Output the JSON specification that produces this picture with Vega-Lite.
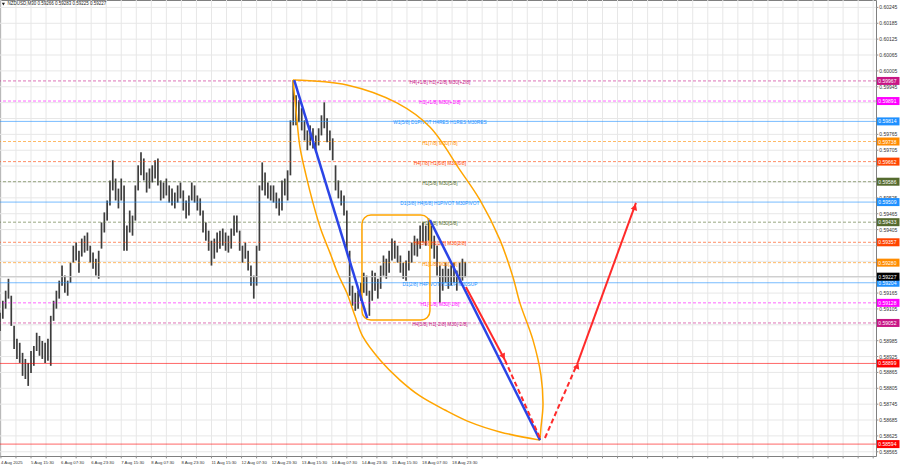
{
"$schema":"https://vega.github.io/schema/vega-lite/v6.json",
"width":876,"height":456,
"autosize":{"type":"none"},
"padding":{"left":0,"top":0,"right":24,"bottom":12},
"background":"#ffffff",
"config":{"font":"Liberation Sans","view":{"stroke":"#808080","strokeWidth":1}},
"datasets":{
"xgrid":[{"t":1},{"t":17},{"t":33},{"t":49},{"t":65},{"t":81},{"t":97},{"t":113},{"t":129},{"t":145},{"t":161},{"t":177},{"t":193},{"t":209},{"t":225},{"t":241},{"t":257},{"t":273},{"t":289},{"t":305},{"t":321},{"t":337},{"t":353},{"t":369},{"t":385},{"t":401},{"t":417},{"t":433},{"t":449},{"t":465},{"t":481},{"t":497},{"t":513},{"t":529},{"t":545},{"t":561},{"t":577},{"t":593},{"t":609},{"t":625},{"t":641},{"t":657},{"t":673},{"t":689},{"t":705},{"t":721},{"t":737},{"t":753},{"t":769},{"t":785},{"t":801},{"t":817},{"t":833},{"t":849},{"t":865},{"t":881},{"t":897},{"t":913},{"t":929}],
"xlabels":[{"t":1,"label":"4 Aug 2025"},{"t":33,"label":"5 Aug 15:30"},{"t":65,"label":"6 Aug 07:30"},{"t":97,"label":"6 Aug 23:30"},{"t":129,"label":"7 Aug 15:30"},{"t":161,"label":"8 Aug 07:30"},{"t":193,"label":"8 Aug 23:30"},{"t":225,"label":"11 Aug 15:30"},{"t":257,"label":"12 Aug 07:30"},{"t":289,"label":"12 Aug 23:30"},{"t":321,"label":"13 Aug 15:30"},{"t":353,"label":"14 Aug 07:30"},{"t":385,"label":"14 Aug 23:30"},{"t":417,"label":"15 Aug 15:30"},{"t":449,"label":"18 Aug 07:30"},{"t":481,"label":"18 Aug 23:30"}],
"ygrid":[{"p":0.58565},{"p":0.58625},{"p":0.58685},{"p":0.58745},{"p":0.58805},{"p":0.58865},{"p":0.58925},{"p":0.58985},{"p":0.59045},{"p":0.59105},{"p":0.59165},{"p":0.59225},{"p":0.59285},{"p":0.59345},{"p":0.59405},{"p":0.59465},{"p":0.59525},{"p":0.59585},{"p":0.59645},{"p":0.59705},{"p":0.59765},{"p":0.59825},{"p":0.59885},{"p":0.59945},{"p":0.60005},{"p":0.60065},{"p":0.60125},{"p":0.60185},{"p":0.60245}],
"ylabels":[{"p":0.58565},{"p":0.58625},{"p":0.58685},{"p":0.58745},{"p":0.58805},{"p":0.58865},{"p":0.58925},{"p":0.58985},{"p":0.59105},{"p":0.59165},{"p":0.59405},{"p":0.59465},{"p":0.59525},{"p":0.59705},{"p":0.59765},{"p":0.59945},{"p":0.60005},{"p":0.60065},{"p":0.60125},{"p":0.60185},{"p":0.60245}],
"bars":[
{"t":0,"h":0.59091,"l":0.59022},{"t":3,"h":0.59136,"l":0.59068},{"t":6,"h":0.59174,"l":0.59106},{"t":9,"h":0.59219,"l":0.59144},{"t":12,"h":0.59155,"l":0.59041},{"t":15,"h":0.59041,"l":0.58954},{"t":18,"h":0.58992,"l":0.58916},{"t":21,"h":0.58977,"l":0.58901},{"t":24,"h":0.58939,"l":0.58852},{"t":27,"h":0.58916,"l":0.5884},{"t":30,"h":0.58901,"l":0.58814},{"t":33,"h":0.58946,"l":0.58863},{"t":36,"h":0.58965,"l":0.5889},{"t":39,"h":0.59015,"l":0.58946},{"t":42,"h":0.59003,"l":0.58928},{"t":45,"h":0.58984,"l":0.58916},{"t":48,"h":0.58977,"l":0.58901},{"t":51,"h":0.58992,"l":0.58909},{"t":54,"h":0.59079,"l":0.5889},{"t":57,"h":0.59136,"l":0.5906},
{"t":60,"h":0.59174,"l":0.59106},{"t":63,"h":0.59212,"l":0.59144},{"t":66,"h":0.59269,"l":0.59193},{"t":69,"h":0.59231,"l":0.59166},{"t":72,"h":0.59212,"l":0.59155},{"t":75,"h":0.5928,"l":0.59204},{"t":78,"h":0.59344,"l":0.5928},{"t":81,"h":0.59356,"l":0.59288},{"t":84,"h":0.59325,"l":0.59242},{"t":87,"h":0.59371,"l":0.59303},{"t":90,"h":0.59382,"l":0.59318},{"t":93,"h":0.59394,"l":0.59325},{"t":96,"h":0.59344,"l":0.5928},{"t":99,"h":0.59318,"l":0.59257},{"t":102,"h":0.59295,"l":0.59231},{"t":105,"h":0.59325,"l":0.59219},{"t":108,"h":0.59432,"l":0.59333},{"t":111,"h":0.5947,"l":0.59394},{"t":114,"h":0.59515,"l":0.59439},{"t":117,"h":0.59591,"l":0.59496},
{"t":120,"h":0.59667,"l":0.59553},{"t":123,"h":0.59598,"l":0.59515},{"t":126,"h":0.5956,"l":0.59485},{"t":129,"h":0.59598,"l":0.59515},{"t":132,"h":0.59572,"l":0.59325},{"t":135,"h":0.5942,"l":0.59325},{"t":138,"h":0.59477,"l":0.59394},{"t":141,"h":0.59458,"l":0.59382},{"t":144,"h":0.59572,"l":0.59439},{"t":147,"h":0.59648,"l":0.59553},{"t":150,"h":0.59697,"l":0.5961},{"t":153,"h":0.59674,"l":0.59591},{"t":156,"h":0.59621,"l":0.59545},{"t":159,"h":0.59636,"l":0.5956},{"t":162,"h":0.59648,"l":0.59583},{"t":165,"h":0.59667,"l":0.59598},{"t":168,"h":0.59674,"l":0.59572},{"t":171,"h":0.59591,"l":0.59515},{"t":174,"h":0.59583,"l":0.59523},{"t":177,"h":0.59598,"l":0.59534},
{"t":180,"h":0.59572,"l":0.59507},{"t":183,"h":0.5956,"l":0.59496},{"t":186,"h":0.59545,"l":0.59485},{"t":189,"h":0.59572,"l":0.59507},{"t":192,"h":0.59583,"l":0.59523},{"t":195,"h":0.59553,"l":0.59477},{"t":198,"h":0.59515,"l":0.59447},{"t":201,"h":0.59534,"l":0.59458},{"t":204,"h":0.59583,"l":0.59515},{"t":207,"h":0.59572,"l":0.59507},{"t":210,"h":0.59534,"l":0.59477},{"t":213,"h":0.59523,"l":0.59458},{"t":216,"h":0.59477,"l":0.59394},{"t":219,"h":0.59432,"l":0.59363},{"t":222,"h":0.59401,"l":0.59325},{"t":225,"h":0.59363,"l":0.59269},{"t":228,"h":0.59371,"l":0.59295},{"t":231,"h":0.59394,"l":0.59318},{"t":234,"h":0.59401,"l":0.59333},{"t":237,"h":0.59409,"l":0.59344},
{"t":240,"h":0.59394,"l":0.59325},{"t":243,"h":0.59382,"l":0.59318},{"t":246,"h":0.59409,"l":0.59333},{"t":249,"h":0.59458,"l":0.59382},{"t":252,"h":0.59458,"l":0.59394},{"t":255,"h":0.59401,"l":0.59325},{"t":258,"h":0.59344,"l":0.5928},{"t":261,"h":0.59356,"l":0.59295},{"t":264,"h":0.59325,"l":0.5925},{"t":267,"h":0.59269,"l":0.59193},{"t":270,"h":0.59231,"l":0.59144},{"t":273,"h":0.59344,"l":0.59193},{"t":276,"h":0.59572,"l":0.59325},{"t":279,"h":0.59659,"l":0.59553},{"t":282,"h":0.59621,"l":0.59534},{"t":285,"h":0.59583,"l":0.59523},{"t":288,"h":0.59572,"l":0.59515},{"t":291,"h":0.59572,"l":0.59507},{"t":294,"h":0.59545,"l":0.59485},{"t":297,"h":0.59523,"l":0.59458},
{"t":300,"h":0.59591,"l":0.59477},{"t":303,"h":0.59598,"l":0.59534},{"t":306,"h":0.59629,"l":0.59515},{"t":309,"h":0.59818,"l":0.5961},{"t":312,"h":0.5997,"l":0.59799},{"t":315,"h":0.59913,"l":0.59799},{"t":318,"h":0.59894,"l":0.59811},{"t":321,"h":0.59864,"l":0.5978},{"t":324,"h":0.59818,"l":0.59742},{"t":327,"h":0.5978,"l":0.59705},{"t":330,"h":0.59799,"l":0.59723},{"t":333,"h":0.59788,"l":0.59712},{"t":336,"h":0.59761,"l":0.59697},{"t":339,"h":0.59788,"l":0.59723},{"t":342,"h":0.59837,"l":0.59761},{"t":345,"h":0.59886,"l":0.59788},{"t":348,"h":0.59826,"l":0.59735},{"t":351,"h":0.5978,"l":0.59705},{"t":354,"h":0.5975,"l":0.59667},{"t":357,"h":0.59648,"l":0.59553},
{"t":360,"h":0.59591,"l":0.59523},{"t":363,"h":0.59553,"l":0.59496},{"t":366,"h":0.59534,"l":0.59458},{"t":369,"h":0.59477,"l":0.59325},{"t":372,"h":0.59325,"l":0.59155},{"t":375,"h":0.59193,"l":0.59117},{"t":378,"h":0.59166,"l":0.59098},{"t":381,"h":0.59174,"l":0.59106},{"t":384,"h":0.59204,"l":0.59136},{"t":387,"h":0.59242,"l":0.59166},{"t":390,"h":0.59231,"l":0.59155},{"t":393,"h":0.59174,"l":0.59079},{"t":396,"h":0.5925,"l":0.59136},{"t":399,"h":0.59242,"l":0.59174},{"t":402,"h":0.59219,"l":0.59144},{"t":405,"h":0.59269,"l":0.59181},{"t":408,"h":0.59307,"l":0.59231},{"t":411,"h":0.59295,"l":0.59219},{"t":414,"h":0.59325,"l":0.59242},{"t":417,"h":0.59371,"l":0.59288},
{"t":420,"h":0.59363,"l":0.59295},{"t":423,"h":0.59344,"l":0.5928},{"t":426,"h":0.59307,"l":0.59242},{"t":429,"h":0.5928,"l":0.59219},{"t":432,"h":0.59288,"l":0.59212},{"t":435,"h":0.59325,"l":0.5925},{"t":438,"h":0.59356,"l":0.5928},{"t":441,"h":0.59382,"l":0.59307},{"t":444,"h":0.59371,"l":0.59303},{"t":447,"h":0.5942,"l":0.59333},{"t":450,"h":0.59432,"l":0.59356},{"t":453,"h":0.5942,"l":0.59344},{"t":456,"h":0.59447,"l":0.59363},{"t":459,"h":0.5942,"l":0.59333},{"t":462,"h":0.59382,"l":0.59295},{"t":465,"h":0.59344,"l":0.59231},{"t":468,"h":0.59269,"l":0.59128},{"t":471,"h":0.59257,"l":0.59174},{"t":474,"h":0.5928,"l":0.59204},{"t":477,"h":0.59257,"l":0.59181},
{"t":480,"h":0.59269,"l":0.59193},{"t":483,"h":0.5928,"l":0.59204},{"t":486,"h":0.5925,"l":0.59174},{"t":489,"h":0.5928,"l":0.59204},{"t":492,"h":0.59295,"l":0.59212},{"t":495,"h":0.59283,"l":0.59225}
],
"levels":[
{"p":0.59967,"kind":"H4 outer","label":"H4[+1/8] H1[+2/8] M30[+2/8]"},
{"p":0.59891,"kind":"H1 extra","label":"H1[+1/8] M30[+1/8]"},
{"p":0.59814,"kind":"pivot","label":"W1[5/8] D1PIVOT H4RES H1RES M30RES"},
{"p":0.59738,"kind":"H1 7/8-1/8","label":"H1[7/8] M30[7/8]"},
{"p":0.59662,"kind":"H4 level","label":"H4[7/8] H1[6/8] M30[6/8]"},
{"p":0.59586,"kind":"H1 5/8-3/8","label":"H1[5/8] M30[5/8]"},
{"p":0.59509,"kind":"pivot","label":"D1[3/8] H4[6/8] H1PIVOT M30PIVOT"},
{"p":0.59433,"kind":"H1 5/8-3/8","label":"H1[3/8] M30[3/8]"},
{"p":0.59357,"kind":"H4 level","label":"H4[5/8] H1[2/8] M30[2/8]"},
{"p":0.5928,"kind":"H1 7/8-1/8","label":"H1[1/8] M30[1/8]"},
{"p":0.59204,"kind":"pivot","label":"D1[2/8] H4PIVOT H1SUP M30SUP"},
{"p":0.59128,"kind":"H1 extra","label":"H1[-1/8] M30[-1/8]"},
{"p":0.59052,"kind":"H4 outer","label":"H4[3/8] H1[-2/8] M30[-2/8]"},
{"p":0.58899,"kind":"target","label":""},
{"p":0.58594,"kind":"target","label":""}
],
"bid":[{"p":0.59227}],
"wave":[{"leg":"first drop","t":313,"p":0.5997},{"leg":"first drop","t":390.7,"p":0.5907},{"leg":"second drop","t":457.4,"p":0.59441},{"leg":"second drop","t":574.5,"p":0.58609}],
"proj":[{"leg":"drop","t":495.7,"p":0.59188},{"leg":"drop","t":537.2,"p":0.58912},{"leg":"drop target","t":537.2,"p":0.58912},{"leg":"drop target","t":574.5,"p":0.58617},{"leg":"rebound start","t":579.8,"p":0.58617},{"leg":"rebound start","t":614.9,"p":0.58904},{"leg":"rebound","t":614.9,"p":0.58904},{"leg":"rebound","t":676.6,"p":0.59506}],
"heads":[{"at":"drop end","t":535.5,"p":0.58925},{"at":"rebound turn","t":614.2,"p":0.5889},{"at":"rebound end","t":675.5,"p":0.5949}],
"arcs":[
{"arc":"left","i":0,"t":311.7,"p":0.59971},{"arc":"left","i":1,"t":314.9,"p":0.59857},{"arc":"left","i":2,"t":319.1,"p":0.59718},{"arc":"left","i":3,"t":325.5,"p":0.59612},{"arc":"left","i":4,"t":333,"p":0.59506},{"arc":"left","i":5,"t":341.5,"p":0.59404},{"arc":"left","i":6,"t":351.1,"p":0.59317},{"arc":"left","i":7,"t":359.6,"p":0.59237},{"arc":"left","i":8,"t":369.1,"p":0.59165},{"arc":"left","i":9,"t":377.7,"p":0.59078},{"arc":"left","i":10,"t":386.2,"p":0.58999},{"arc":"left","i":11,"t":404.3,"p":0.58912},{"arc":"left","i":12,"t":425.5,"p":0.58836},{"arc":"left","i":13,"t":446.8,"p":0.58776},{"arc":"left","i":14,"t":473.4,"p":0.58723},{"arc":"left","i":15,"t":500,"p":0.58677},{"arc":"left","i":16,"t":531.9,"p":0.5864},{"arc":"left","i":17,"t":574.5,"p":0.58609},
{"arc":"right","i":0,"t":311.7,"p":0.59971},{"arc":"right","i":1,"t":369.1,"p":0.59952},{"arc":"right","i":2,"t":422.3,"p":0.59884},{"arc":"right","i":3,"t":457.4,"p":0.59793},{"arc":"right","i":4,"t":489.4,"p":0.5963},{"arc":"right","i":5,"t":510.6,"p":0.59517},{"arc":"right","i":6,"t":531.9,"p":0.59366},{"arc":"right","i":7,"t":545.7,"p":0.59226},{"arc":"right","i":8,"t":553.2,"p":0.59127},{"arc":"right","i":9,"t":567,"p":0.58988},{"arc":"right","i":10,"t":575.5,"p":0.58855},{"arc":"right","i":11,"t":577.7,"p":0.58742},{"arc":"right","i":12,"t":575.5,"p":0.58655},{"arc":"right","i":13,"t":574.5,"p":0.58609}
],
"box":[{"t0":385.1,"t1":457.4,"p0":0.5946,"p1":0.59063}],
"header":[{"label":"NZDUSD,M30  0.59266 0.59283 0.59225 0.59227"}]
},
"layer":[
{"data":{"name":"xgrid"},
 "mark":{"type":"rule","color":"#e7e7e7","strokeWidth":1},
 "encoding":{
  "x":{"field":"t","type":"quantitative","axis":null,"scale":{"domain":[0,932],"nice":false,"zero":false}}}},
{"data":{"name":"ygrid"},
 "mark":{"type":"rule","color":"#e7e7e7","strokeWidth":1},
 "encoding":{
  "y":{"field":"p","type":"quantitative","axis":null,"scale":{"domain":[0.58549,0.60273],"nice":false,"zero":false}}}},
{"data":{"name":"ygrid"},
 "mark":{"type":"rule","color":"#909090","strokeWidth":1},
 "encoding":{
  "x":{"datum":932,"type":"quantitative","axis":null},"x2":{"datum":934.5},
  "y":{"field":"p","type":"quantitative","axis":null}}},
{"data":{"name":"xgrid"},
 "mark":{"type":"rule","color":"#909090","strokeWidth":1},
 "encoding":{
  "x":{"field":"t","type":"quantitative","axis":null},
  "y":{"datum":0.58549,"type":"quantitative","axis":null},"y2":{"datum":0.5854}}},
{"data":{"name":"xlabels"},
 "mark":{"type":"text","fontSize":4.3,"align":"left","baseline":"middle","color":"#333333"},
 "encoding":{
  "x":{"field":"t","type":"quantitative","axis":null},
  "y":{"datum":0.58524,"type":"quantitative","axis":null},
  "text":{"field":"label"}}},
{"data":{"name":"ylabels"},
 "mark":{"type":"text","fontSize":5,"align":"left","baseline":"middle","color":"#333333"},
 "encoding":{
  "x":{"datum":935.5,"type":"quantitative","axis":null},
  "y":{"field":"p","type":"quantitative","axis":null},
  "text":{"field":"p","type":"quantitative","format":".5f"}}},
{"data":{"name":"bars"},
 "mark":{"type":"rule","color":"#3d3d3d","strokeWidth":1.7},
 "encoding":{
  "x":{"field":"t","type":"quantitative","axis":null},
  "y":{"field":"h","type":"quantitative","axis":null},
  "y2":{"field":"l"}}},
{"data":{"name":"levels"},
 "mark":{"type":"rule","strokeWidth":1,"opacity":0.6},
 "encoding":{
  "y":{"field":"p","type":"quantitative","axis":null},
  "color":{"field":"kind","type":"nominal","legend":null,"scale":{"domain":["H4 outer","H1 extra","pivot","H1 7/8-1/8","H4 level","H1 5/8-3/8","target"],"range":["#c71585","#ff00ff","#1e90ff","#ff8c00","#ff4500","#556b2f","#ff0000"]}},
  "strokeDash":{"field":"kind","type":"nominal","legend":null,"scale":{"domain":["H4 outer","H1 extra","pivot","H1 7/8-1/8","H4 level","H1 5/8-3/8","target"],"range":[[3,2],[3,2],[1,0],[3,2],[3,2],[3,2],[1,0]]}}}},
{"data":{"name":"bid"},
 "mark":{"type":"rule","strokeWidth":1,"color":"#c8c8c8"},
 "encoding":{"y":{"field":"p","type":"quantitative","axis":null}}},
{"data":{"name":"levels"},
 "mark":{"type":"text","fontSize":4.8,"align":"center","baseline":"middle","dy":2},
 "encoding":{
  "x":{"datum":468,"type":"quantitative","axis":null},
  "y":{"field":"p","type":"quantitative","axis":null},
  "text":{"field":"label"},
  "color":{"field":"kind","type":"nominal","legend":null}}},
{"data":{"name":"box"},
 "mark":{"type":"rect","fill":"transparent","stroke":"#ffa500","strokeWidth":1.5,"cornerRadius":9},
 "encoding":{
  "x":{"field":"t0","type":"quantitative","axis":null},"x2":{"field":"t1"},
  "y":{"field":"p0","type":"quantitative","axis":null},"y2":{"field":"p1"}}},
{"data":{"name":"arcs"},
 "mark":{"type":"line","color":"#ffa500","strokeWidth":1.5,"interpolate":"catmull-rom"},
 "encoding":{
  "x":{"field":"t","type":"quantitative","axis":null},
  "y":{"field":"p","type":"quantitative","axis":null},
  "detail":{"field":"arc"},
  "order":{"field":"i","type":"quantitative"}}},
{"data":{"name":"wave"},
 "mark":{"type":"line","color":"#2b44e6","strokeWidth":2.5},
 "encoding":{
  "x":{"field":"t","type":"quantitative","axis":null},
  "y":{"field":"p","type":"quantitative","axis":null},
  "detail":{"field":"leg"}}},
{"data":{"name":"proj"},"transform":[{"filter":"datum.leg == 'drop' || datum.leg == 'rebound'"}],
 "mark":{"type":"line","color":"#ff2a2a","strokeWidth":2},
 "encoding":{
  "x":{"field":"t","type":"quantitative","axis":null},
  "y":{"field":"p","type":"quantitative","axis":null},
  "detail":{"field":"leg"}}},
{"data":{"name":"proj"},"transform":[{"filter":"datum.leg == 'drop target' || datum.leg == 'rebound start'"}],
 "mark":{"type":"line","color":"#ff2a2a","strokeWidth":2,"strokeDash":[5,3]},
 "encoding":{
  "x":{"field":"t","type":"quantitative","axis":null},
  "y":{"field":"p","type":"quantitative","axis":null},
  "detail":{"field":"leg"}}},
{"data":{"name":"heads"},"transform":[{"filter":"datum.at == 'drop end'"}],
 "mark":{"type":"point","shape":"triangle-up","filled":true,"size":45,"color":"#ff2a2a","opacity":1,"angle":152},
 "encoding":{"x":{"field":"t","type":"quantitative","axis":null},"y":{"field":"p","type":"quantitative","axis":null}}},
{"data":{"name":"heads"},"transform":[{"filter":"datum.at == 'rebound turn'"}],
 "mark":{"type":"point","shape":"triangle-up","filled":true,"size":45,"color":"#ff2a2a","opacity":1,"angle":23},
 "encoding":{"x":{"field":"t","type":"quantitative","axis":null},"y":{"field":"p","type":"quantitative","axis":null}}},
{"data":{"name":"heads"},"transform":[{"filter":"datum.at == 'rebound end'"}],
 "mark":{"type":"point","shape":"triangle-up","filled":true,"size":45,"color":"#ff2a2a","opacity":1,"angle":20},
 "encoding":{"x":{"field":"t","type":"quantitative","axis":null},"y":{"field":"p","type":"quantitative","axis":null}}},
{"data":{"name":"levels"},
 "mark":{"type":"rule","strokeWidth":8,"strokeCap":"butt"},
 "encoding":{
  "x":{"datum":933,"type":"quantitative","axis":null},"x2":{"datum":957},
  "y":{"field":"p","type":"quantitative","axis":null},
  "color":{"field":"kind","type":"nominal","legend":null}}},
{"data":{"name":"levels"},
 "mark":{"type":"text","fontSize":5,"align":"left","baseline":"middle","color":"#ffffff"},
 "encoding":{
  "x":{"datum":934.5,"type":"quantitative","axis":null},
  "y":{"field":"p","type":"quantitative","axis":null},
  "text":{"field":"p","type":"quantitative","format":".5f"}}},
{"data":{"name":"bid"},
 "mark":{"type":"rule","strokeWidth":8,"strokeCap":"butt","color":"#000000"},
 "encoding":{
  "x":{"datum":933,"type":"quantitative","axis":null},"x2":{"datum":957},
  "y":{"field":"p","type":"quantitative","axis":null}}},
{"data":{"name":"bid"},
 "mark":{"type":"text","fontSize":5,"align":"left","baseline":"middle","color":"#ffffff"},
 "encoding":{
  "x":{"datum":934.5,"type":"quantitative","axis":null},
  "y":{"field":"p","type":"quantitative","axis":null},
  "text":{"field":"p","type":"quantitative","format":".5f"}}},
{"data":{"name":"header"},
 "mark":{"type":"text","fontSize":4.5,"align":"left","baseline":"middle","color":"#222222"},
 "encoding":{
  "x":{"datum":8,"type":"quantitative","axis":null},
  "y":{"datum":0.60257,"type":"quantitative","axis":null},
  "text":{"field":"label"}}},
{"data":{"name":"header"},
 "mark":{"type":"point","shape":"triangle-down","filled":true,"size":10,"color":"#222222","opacity":1},
 "encoding":{
  "x":{"datum":3.6,"type":"quantitative","axis":null},
  "y":{"datum":0.60257,"type":"quantitative","axis":null}}}
]
}
